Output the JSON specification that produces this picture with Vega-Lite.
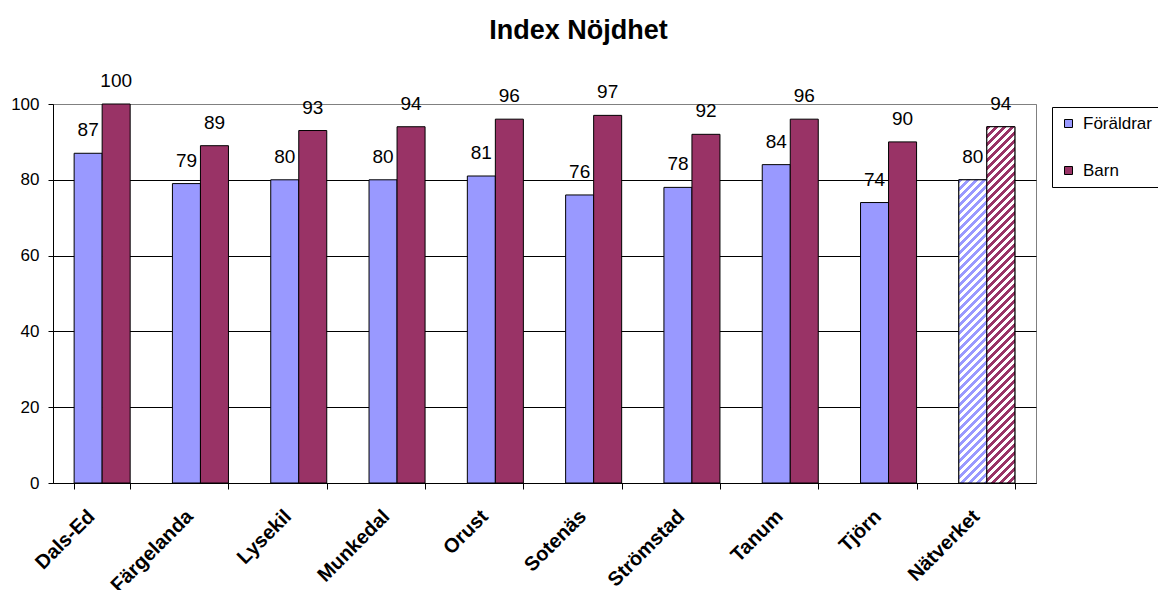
{
  "$schema": "https://vega.github.io/schema/vega-lite/v6.json",
  "width": 983,
  "height": 379,
  "autosize": "none",
  "padding": {"left": 53, "top": 104, "right": 122, "bottom": 107},
  "background": "white",
  "title": {"text": "Index Nöjdhet", "fontSize": 27, "fontWeight": "bold", "font": "Liberation Sans", "anchor": "middle", "dx": 34, "offset": 27, "color": "black"},
  "config": {"view": {"stroke": "#808080"}, "font": "Liberation Sans"},
  "data": {"values": [
    {"kommun": "Dals-Ed", "serie": "Föräldrar", "index": 87},
    {"kommun": "Dals-Ed", "serie": "Barn", "index": 100},
    {"kommun": "Färgelanda", "serie": "Föräldrar", "index": 79},
    {"kommun": "Färgelanda", "serie": "Barn", "index": 89},
    {"kommun": "Lysekil", "serie": "Föräldrar", "index": 80},
    {"kommun": "Lysekil", "serie": "Barn", "index": 93},
    {"kommun": "Munkedal", "serie": "Föräldrar", "index": 80},
    {"kommun": "Munkedal", "serie": "Barn", "index": 94},
    {"kommun": "Orust", "serie": "Föräldrar", "index": 81},
    {"kommun": "Orust", "serie": "Barn", "index": 96},
    {"kommun": "Sotenäs", "serie": "Föräldrar", "index": 76},
    {"kommun": "Sotenäs", "serie": "Barn", "index": 97},
    {"kommun": "Strömstad", "serie": "Föräldrar", "index": 78},
    {"kommun": "Strömstad", "serie": "Barn", "index": 92},
    {"kommun": "Tanum", "serie": "Föräldrar", "index": 84},
    {"kommun": "Tanum", "serie": "Barn", "index": 96},
    {"kommun": "Tjörn", "serie": "Föräldrar", "index": 74},
    {"kommun": "Tjörn", "serie": "Barn", "index": 90},
    {"kommun": "Nätverket", "serie": "Föräldrar", "index": 80},
    {"kommun": "Nätverket", "serie": "Barn", "index": 94}
  ]},
  "encoding": {
    "x": {"field": "kommun", "type": "nominal",
      "scale": {"domain": ["Dals-Ed", "Färgelanda", "Lysekil", "Munkedal", "Orust", "Sotenäs", "Strömstad", "Tanum", "Tjörn", "Nätverket"], "paddingInner": 0.43, "paddingOuter": 0.215},
      "axis": {"title": null, "labelAngle": -45, "labelAlign": "right", "labelBaseline": "middle", "labelFontSize": 20, "labelFontWeight": "bold", "labelColor": "black", "labelFont": "Liberation Sans", "tickBand": "extent", "tickSize": 6, "tickColor": "black", "domainColor": "black", "labelPadding": 24, "labelOffset": -11, "grid": false, "labelLimit": 0}},
    "xOffset": {"field": "serie", "type": "nominal", "scale": {"domain": ["Föräldrar", "Barn"], "paddingInner": 0, "paddingOuter": 0}},
    "y": {"field": "index", "type": "quantitative", "scale": {"domain": [0, 100]},
      "axis": {"values": [0, 20, 40, 60, 80, 100], "title": null, "grid": true, "gridColor": {"condition": {"test": "datum.value == 100", "value": "#808080"}, "value": "black"}, "domainColor": "black", "tickColor": "black", "tickSize": 5, "labelFontSize": 17, "labelColor": "black", "labelPadding": 9, "labelFont": "Liberation Sans"}}
  },
  "layer": [
    {"mark": {"type": "bar", "stroke": "black", "strokeWidth": 1},
     "encoding": {"color": {"field": "serie", "type": "nominal", "scale": {"domain": ["Föräldrar", "Barn"], "range": ["#9999FF", "#993366"]},
       "legend": {"orient": "none", "legendX": 999, "legendY": 3, "title": null, "strokeColor": "black", "fillColor": "white", "padding": 8, "labelFontSize": 17, "labelColor": "black", "labelFont": "Liberation Sans", "symbolType": "square", "symbolSize": 64, "symbolStrokeColor": "black", "symbolStrokeWidth": 1, "rowPadding": 29, "labelOffset": 6}}}},
    {"transform": [{"filter": "datum.kommun == 'Nätverket' && datum.serie == 'Föräldrar'"}],
     "mark": {"type": "bar", "stroke": "black", "strokeWidth": 1, "fill": {"gradient": "linear", "x1": 0, "y1": 0, "x2": 0.12093, "y2": 1.3081, "stops": [
{"offset":0,"color":"#99f"},{"offset":0.01,"color":"#99f"},{"offset":0.01,"color":"#fff"},{"offset":0.02,"color":"#fff"},
{"offset":0.02,"color":"#99f"},{"offset":0.03,"color":"#99f"},{"offset":0.03,"color":"#fff"},{"offset":0.04,"color":"#fff"},
{"offset":0.04,"color":"#99f"},{"offset":0.05,"color":"#99f"},{"offset":0.05,"color":"#fff"},{"offset":0.06,"color":"#fff"},
{"offset":0.06,"color":"#99f"},{"offset":0.07,"color":"#99f"},{"offset":0.07,"color":"#fff"},{"offset":0.08,"color":"#fff"},
{"offset":0.08,"color":"#99f"},{"offset":0.09,"color":"#99f"},{"offset":0.09,"color":"#fff"},{"offset":0.10,"color":"#fff"},
{"offset":0.10,"color":"#99f"},{"offset":0.11,"color":"#99f"},{"offset":0.11,"color":"#fff"},{"offset":0.12,"color":"#fff"},
{"offset":0.12,"color":"#99f"},{"offset":0.13,"color":"#99f"},{"offset":0.13,"color":"#fff"},{"offset":0.14,"color":"#fff"},
{"offset":0.14,"color":"#99f"},{"offset":0.15,"color":"#99f"},{"offset":0.15,"color":"#fff"},{"offset":0.16,"color":"#fff"},
{"offset":0.16,"color":"#99f"},{"offset":0.17,"color":"#99f"},{"offset":0.17,"color":"#fff"},{"offset":0.18,"color":"#fff"},
{"offset":0.18,"color":"#99f"},{"offset":0.19,"color":"#99f"},{"offset":0.19,"color":"#fff"},{"offset":0.20,"color":"#fff"},
{"offset":0.20,"color":"#99f"},{"offset":0.21,"color":"#99f"},{"offset":0.21,"color":"#fff"},{"offset":0.22,"color":"#fff"},
{"offset":0.22,"color":"#99f"},{"offset":0.23,"color":"#99f"},{"offset":0.23,"color":"#fff"},{"offset":0.24,"color":"#fff"},
{"offset":0.24,"color":"#99f"},{"offset":0.25,"color":"#99f"},{"offset":0.25,"color":"#fff"},{"offset":0.26,"color":"#fff"},
{"offset":0.26,"color":"#99f"},{"offset":0.27,"color":"#99f"},{"offset":0.27,"color":"#fff"},{"offset":0.28,"color":"#fff"},
{"offset":0.28,"color":"#99f"},{"offset":0.29,"color":"#99f"},{"offset":0.29,"color":"#fff"},{"offset":0.30,"color":"#fff"},
{"offset":0.30,"color":"#99f"},{"offset":0.31,"color":"#99f"},{"offset":0.31,"color":"#fff"},{"offset":0.32,"color":"#fff"},
{"offset":0.32,"color":"#99f"},{"offset":0.33,"color":"#99f"},{"offset":0.33,"color":"#fff"},{"offset":0.34,"color":"#fff"},
{"offset":0.34,"color":"#99f"},{"offset":0.35,"color":"#99f"},{"offset":0.35,"color":"#fff"},{"offset":0.36,"color":"#fff"},
{"offset":0.36,"color":"#99f"},{"offset":0.37,"color":"#99f"},{"offset":0.37,"color":"#fff"},{"offset":0.38,"color":"#fff"},
{"offset":0.38,"color":"#99f"},{"offset":0.39,"color":"#99f"},{"offset":0.39,"color":"#fff"},{"offset":0.40,"color":"#fff"},
{"offset":0.40,"color":"#99f"},{"offset":0.41,"color":"#99f"},{"offset":0.41,"color":"#fff"},{"offset":0.42,"color":"#fff"},
{"offset":0.42,"color":"#99f"},{"offset":0.43,"color":"#99f"},{"offset":0.43,"color":"#fff"},{"offset":0.44,"color":"#fff"},
{"offset":0.44,"color":"#99f"},{"offset":0.45,"color":"#99f"},{"offset":0.45,"color":"#fff"},{"offset":0.46,"color":"#fff"},
{"offset":0.46,"color":"#99f"},{"offset":0.47,"color":"#99f"},{"offset":0.47,"color":"#fff"},{"offset":0.48,"color":"#fff"},
{"offset":0.48,"color":"#99f"},{"offset":0.49,"color":"#99f"},{"offset":0.49,"color":"#fff"},{"offset":0.50,"color":"#fff"},
{"offset":0.50,"color":"#99f"},{"offset":0.51,"color":"#99f"},{"offset":0.51,"color":"#fff"},{"offset":0.52,"color":"#fff"},
{"offset":0.52,"color":"#99f"},{"offset":0.53,"color":"#99f"},{"offset":0.53,"color":"#fff"},{"offset":0.54,"color":"#fff"},
{"offset":0.54,"color":"#99f"},{"offset":0.55,"color":"#99f"},{"offset":0.55,"color":"#fff"},{"offset":0.56,"color":"#fff"},
{"offset":0.56,"color":"#99f"},{"offset":0.57,"color":"#99f"},{"offset":0.57,"color":"#fff"},{"offset":0.58,"color":"#fff"},
{"offset":0.58,"color":"#99f"},{"offset":0.59,"color":"#99f"},{"offset":0.59,"color":"#fff"},{"offset":0.60,"color":"#fff"},
{"offset":0.60,"color":"#99f"},{"offset":0.61,"color":"#99f"},{"offset":0.61,"color":"#fff"},{"offset":0.62,"color":"#fff"},
{"offset":0.62,"color":"#99f"},{"offset":0.63,"color":"#99f"},{"offset":0.63,"color":"#fff"},{"offset":0.64,"color":"#fff"},
{"offset":0.64,"color":"#99f"},{"offset":0.65,"color":"#99f"},{"offset":0.65,"color":"#fff"},{"offset":0.66,"color":"#fff"},
{"offset":0.66,"color":"#99f"},{"offset":0.67,"color":"#99f"},{"offset":0.67,"color":"#fff"},{"offset":0.68,"color":"#fff"},
{"offset":0.68,"color":"#99f"},{"offset":0.69,"color":"#99f"},{"offset":0.69,"color":"#fff"},{"offset":0.70,"color":"#fff"},
{"offset":0.70,"color":"#99f"},{"offset":0.71,"color":"#99f"},{"offset":0.71,"color":"#fff"},{"offset":0.72,"color":"#fff"},
{"offset":0.72,"color":"#99f"},{"offset":0.73,"color":"#99f"},{"offset":0.73,"color":"#fff"},{"offset":0.74,"color":"#fff"},
{"offset":0.74,"color":"#99f"},{"offset":0.75,"color":"#99f"},{"offset":0.75,"color":"#fff"},{"offset":0.76,"color":"#fff"},
{"offset":0.76,"color":"#99f"},{"offset":0.77,"color":"#99f"},{"offset":0.77,"color":"#fff"},{"offset":0.78,"color":"#fff"},
{"offset":0.78,"color":"#99f"},{"offset":0.79,"color":"#99f"},{"offset":0.79,"color":"#fff"},{"offset":0.80,"color":"#fff"},
{"offset":0.80,"color":"#99f"},{"offset":0.81,"color":"#99f"},{"offset":0.81,"color":"#fff"},{"offset":0.82,"color":"#fff"},
{"offset":0.82,"color":"#99f"},{"offset":0.83,"color":"#99f"},{"offset":0.83,"color":"#fff"},{"offset":0.84,"color":"#fff"},
{"offset":0.84,"color":"#99f"},{"offset":0.85,"color":"#99f"},{"offset":0.85,"color":"#fff"},{"offset":0.86,"color":"#fff"},
{"offset":0.86,"color":"#99f"},{"offset":0.87,"color":"#99f"},{"offset":0.87,"color":"#fff"},{"offset":0.88,"color":"#fff"},
{"offset":0.88,"color":"#99f"},{"offset":0.89,"color":"#99f"},{"offset":0.89,"color":"#fff"},{"offset":0.90,"color":"#fff"},
{"offset":0.90,"color":"#99f"},{"offset":0.91,"color":"#99f"},{"offset":0.91,"color":"#fff"},{"offset":0.92,"color":"#fff"},
{"offset":0.92,"color":"#99f"},{"offset":0.93,"color":"#99f"},{"offset":0.93,"color":"#fff"},{"offset":0.94,"color":"#fff"},
{"offset":0.94,"color":"#99f"},{"offset":0.95,"color":"#99f"},{"offset":0.95,"color":"#fff"},{"offset":0.96,"color":"#fff"},
{"offset":0.96,"color":"#99f"},{"offset":0.97,"color":"#99f"},{"offset":0.97,"color":"#fff"},{"offset":0.98,"color":"#fff"},
{"offset":0.98,"color":"#99f"},{"offset":0.99,"color":"#99f"},{"offset":0.99,"color":"#fff"},{"offset":1,"color":"#fff"}
     ]}}},
    {"transform": [{"filter": "datum.kommun == 'Nätverket' && datum.serie == 'Barn'"}],
     "mark": {"type": "bar", "stroke": "black", "strokeWidth": 1, "fill": {"gradient": "linear", "x1": 0, "y1": 0, "x2": 0.0878, "y2": 1.11587, "stops": [
{"offset":0,"color":"#936"},{"offset":0.01,"color":"#936"},{"offset":0.01,"color":"#fff"},{"offset":0.02,"color":"#fff"},
{"offset":0.02,"color":"#936"},{"offset":0.03,"color":"#936"},{"offset":0.03,"color":"#fff"},{"offset":0.04,"color":"#fff"},
{"offset":0.04,"color":"#936"},{"offset":0.05,"color":"#936"},{"offset":0.05,"color":"#fff"},{"offset":0.06,"color":"#fff"},
{"offset":0.06,"color":"#936"},{"offset":0.07,"color":"#936"},{"offset":0.07,"color":"#fff"},{"offset":0.08,"color":"#fff"},
{"offset":0.08,"color":"#936"},{"offset":0.09,"color":"#936"},{"offset":0.09,"color":"#fff"},{"offset":0.10,"color":"#fff"},
{"offset":0.10,"color":"#936"},{"offset":0.11,"color":"#936"},{"offset":0.11,"color":"#fff"},{"offset":0.12,"color":"#fff"},
{"offset":0.12,"color":"#936"},{"offset":0.13,"color":"#936"},{"offset":0.13,"color":"#fff"},{"offset":0.14,"color":"#fff"},
{"offset":0.14,"color":"#936"},{"offset":0.15,"color":"#936"},{"offset":0.15,"color":"#fff"},{"offset":0.16,"color":"#fff"},
{"offset":0.16,"color":"#936"},{"offset":0.17,"color":"#936"},{"offset":0.17,"color":"#fff"},{"offset":0.18,"color":"#fff"},
{"offset":0.18,"color":"#936"},{"offset":0.19,"color":"#936"},{"offset":0.19,"color":"#fff"},{"offset":0.20,"color":"#fff"},
{"offset":0.20,"color":"#936"},{"offset":0.21,"color":"#936"},{"offset":0.21,"color":"#fff"},{"offset":0.22,"color":"#fff"},
{"offset":0.22,"color":"#936"},{"offset":0.23,"color":"#936"},{"offset":0.23,"color":"#fff"},{"offset":0.24,"color":"#fff"},
{"offset":0.24,"color":"#936"},{"offset":0.25,"color":"#936"},{"offset":0.25,"color":"#fff"},{"offset":0.26,"color":"#fff"},
{"offset":0.26,"color":"#936"},{"offset":0.27,"color":"#936"},{"offset":0.27,"color":"#fff"},{"offset":0.28,"color":"#fff"},
{"offset":0.28,"color":"#936"},{"offset":0.29,"color":"#936"},{"offset":0.29,"color":"#fff"},{"offset":0.30,"color":"#fff"},
{"offset":0.30,"color":"#936"},{"offset":0.31,"color":"#936"},{"offset":0.31,"color":"#fff"},{"offset":0.32,"color":"#fff"},
{"offset":0.32,"color":"#936"},{"offset":0.33,"color":"#936"},{"offset":0.33,"color":"#fff"},{"offset":0.34,"color":"#fff"},
{"offset":0.34,"color":"#936"},{"offset":0.35,"color":"#936"},{"offset":0.35,"color":"#fff"},{"offset":0.36,"color":"#fff"},
{"offset":0.36,"color":"#936"},{"offset":0.37,"color":"#936"},{"offset":0.37,"color":"#fff"},{"offset":0.38,"color":"#fff"},
{"offset":0.38,"color":"#936"},{"offset":0.39,"color":"#936"},{"offset":0.39,"color":"#fff"},{"offset":0.40,"color":"#fff"},
{"offset":0.40,"color":"#936"},{"offset":0.41,"color":"#936"},{"offset":0.41,"color":"#fff"},{"offset":0.42,"color":"#fff"},
{"offset":0.42,"color":"#936"},{"offset":0.43,"color":"#936"},{"offset":0.43,"color":"#fff"},{"offset":0.44,"color":"#fff"},
{"offset":0.44,"color":"#936"},{"offset":0.45,"color":"#936"},{"offset":0.45,"color":"#fff"},{"offset":0.46,"color":"#fff"},
{"offset":0.46,"color":"#936"},{"offset":0.47,"color":"#936"},{"offset":0.47,"color":"#fff"},{"offset":0.48,"color":"#fff"},
{"offset":0.48,"color":"#936"},{"offset":0.49,"color":"#936"},{"offset":0.49,"color":"#fff"},{"offset":0.50,"color":"#fff"},
{"offset":0.50,"color":"#936"},{"offset":0.51,"color":"#936"},{"offset":0.51,"color":"#fff"},{"offset":0.52,"color":"#fff"},
{"offset":0.52,"color":"#936"},{"offset":0.53,"color":"#936"},{"offset":0.53,"color":"#fff"},{"offset":0.54,"color":"#fff"},
{"offset":0.54,"color":"#936"},{"offset":0.55,"color":"#936"},{"offset":0.55,"color":"#fff"},{"offset":0.56,"color":"#fff"},
{"offset":0.56,"color":"#936"},{"offset":0.57,"color":"#936"},{"offset":0.57,"color":"#fff"},{"offset":0.58,"color":"#fff"},
{"offset":0.58,"color":"#936"},{"offset":0.59,"color":"#936"},{"offset":0.59,"color":"#fff"},{"offset":0.60,"color":"#fff"},
{"offset":0.60,"color":"#936"},{"offset":0.61,"color":"#936"},{"offset":0.61,"color":"#fff"},{"offset":0.62,"color":"#fff"},
{"offset":0.62,"color":"#936"},{"offset":0.63,"color":"#936"},{"offset":0.63,"color":"#fff"},{"offset":0.64,"color":"#fff"},
{"offset":0.64,"color":"#936"},{"offset":0.65,"color":"#936"},{"offset":0.65,"color":"#fff"},{"offset":0.66,"color":"#fff"},
{"offset":0.66,"color":"#936"},{"offset":0.67,"color":"#936"},{"offset":0.67,"color":"#fff"},{"offset":0.68,"color":"#fff"},
{"offset":0.68,"color":"#936"},{"offset":0.69,"color":"#936"},{"offset":0.69,"color":"#fff"},{"offset":0.70,"color":"#fff"},
{"offset":0.70,"color":"#936"},{"offset":0.71,"color":"#936"},{"offset":0.71,"color":"#fff"},{"offset":0.72,"color":"#fff"},
{"offset":0.72,"color":"#936"},{"offset":0.73,"color":"#936"},{"offset":0.73,"color":"#fff"},{"offset":0.74,"color":"#fff"},
{"offset":0.74,"color":"#936"},{"offset":0.75,"color":"#936"},{"offset":0.75,"color":"#fff"},{"offset":0.76,"color":"#fff"},
{"offset":0.76,"color":"#936"},{"offset":0.77,"color":"#936"},{"offset":0.77,"color":"#fff"},{"offset":0.78,"color":"#fff"},
{"offset":0.78,"color":"#936"},{"offset":0.79,"color":"#936"},{"offset":0.79,"color":"#fff"},{"offset":0.80,"color":"#fff"},
{"offset":0.80,"color":"#936"},{"offset":0.81,"color":"#936"},{"offset":0.81,"color":"#fff"},{"offset":0.82,"color":"#fff"},
{"offset":0.82,"color":"#936"},{"offset":0.83,"color":"#936"},{"offset":0.83,"color":"#fff"},{"offset":0.84,"color":"#fff"},
{"offset":0.84,"color":"#936"},{"offset":0.85,"color":"#936"},{"offset":0.85,"color":"#fff"},{"offset":0.86,"color":"#fff"},
{"offset":0.86,"color":"#936"},{"offset":0.87,"color":"#936"},{"offset":0.87,"color":"#fff"},{"offset":0.88,"color":"#fff"},
{"offset":0.88,"color":"#936"},{"offset":0.89,"color":"#936"},{"offset":0.89,"color":"#fff"},{"offset":0.90,"color":"#fff"},
{"offset":0.90,"color":"#936"},{"offset":0.91,"color":"#936"},{"offset":0.91,"color":"#fff"},{"offset":0.92,"color":"#fff"},
{"offset":0.92,"color":"#936"},{"offset":0.93,"color":"#936"},{"offset":0.93,"color":"#fff"},{"offset":0.94,"color":"#fff"},
{"offset":0.94,"color":"#936"},{"offset":0.95,"color":"#936"},{"offset":0.95,"color":"#fff"},{"offset":0.96,"color":"#fff"},
{"offset":0.96,"color":"#936"},{"offset":0.97,"color":"#936"},{"offset":0.97,"color":"#fff"},{"offset":0.98,"color":"#fff"},
{"offset":0.98,"color":"#936"},{"offset":0.99,"color":"#936"},{"offset":0.99,"color":"#fff"},{"offset":1,"color":"#fff"}
     ]}}},
    {"mark": {"type": "text", "dy": -17, "fontSize": 19, "baseline": "alphabetic", "align": "center", "color": "black", "font": "Liberation Sans"},
     "encoding": {"text": {"field": "index", "type": "quantitative"}}}
  ]
}
